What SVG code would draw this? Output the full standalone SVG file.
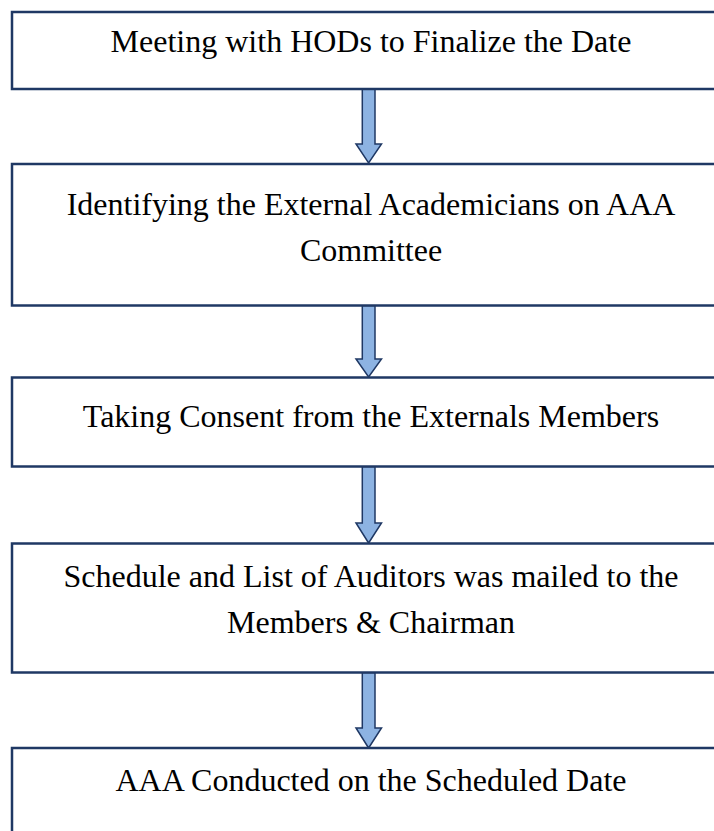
<svg xmlns="http://www.w3.org/2000/svg" width="714" height="831" viewBox="0 0 714 831">
<style>
.box{fill:#ffffff;stroke:#1f3864;stroke-width:2.5}
.arr{fill:#8db3e2;stroke:#1f3864;stroke-width:1.5;stroke-linejoin:miter}
.t{font-family:"Liberation Serif","Times New Roman",serif;font-size:32px;fill:#000;text-anchor:middle}
</style>
<rect width="714" height="831" fill="#ffffff"/>
<g id="connectors">
<path class="arr" d="M362.3,89 H375 V144 H381.5 L368.6,163 L356,144 H362.3 Z"/>
<path class="arr" d="M362.3,305.5 H375 V359 H381.5 L368.6,377 L356,359 H362.3 Z"/>
<path class="arr" d="M362.3,466.5 H375 V523 H381.5 L368.6,543 L356,523 H362.3 Z"/>
<path class="arr" d="M362.3,672.5 H375 V728 H381.5 L368.6,748 L356,728 H362.3 Z"/>
</g>
<g id="node1">
<rect class="box" x="12" y="12" width="720" height="77"/>
<text class="t" x="371" y="52">Meeting with HODs to Finalize the Date</text>
</g>
<g id="node2">
<rect class="box" x="12" y="164" width="720" height="141.5"/>
<text class="t" x="371" y="215">Identifying the External Academicians on AAA</text>
<text class="t" x="371" y="261">Committee</text>
</g>
<g id="node3">
<rect class="box" x="12" y="377.5" width="720" height="89"/>
<text class="t" x="371" y="427">Taking Consent from the Externals Members</text>
</g>
<g id="node4">
<rect class="box" x="12" y="543.5" width="720" height="129"/>
<text class="t" x="371" y="587">Schedule and List of Auditors was mailed to the</text>
<text class="t" x="371" y="633">Members &amp; Chairman</text>
</g>
<g id="node5">
<rect class="box" x="12" y="748" width="720" height="100"/>
<text class="t" x="371" y="791">AAA Conducted on the Scheduled Date</text>
</g>
</svg>
